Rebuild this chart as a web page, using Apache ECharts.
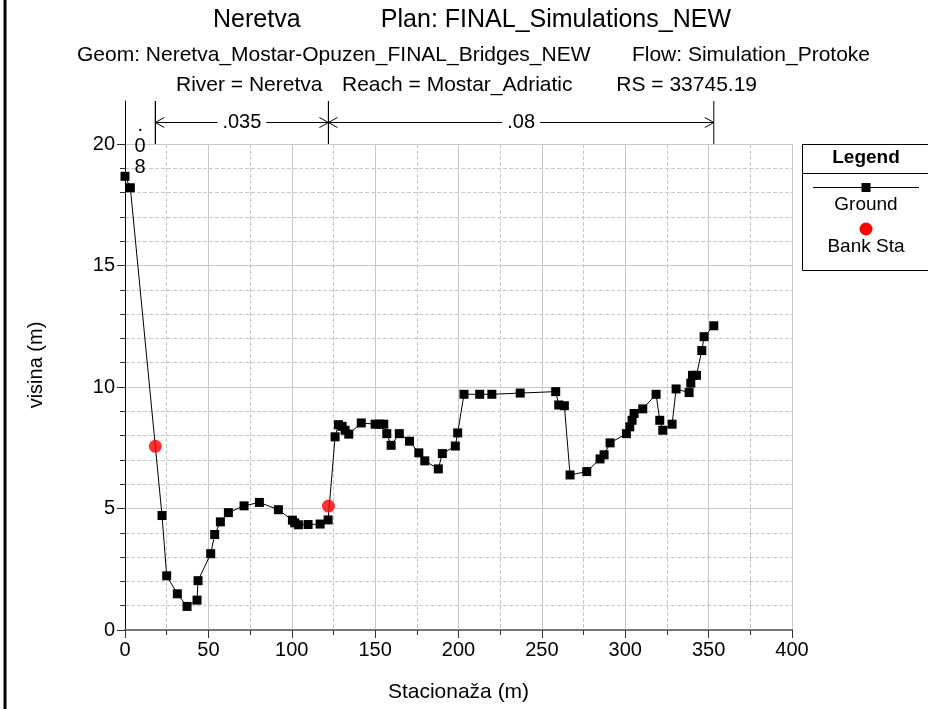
<!DOCTYPE html>
<html>
<head>
<meta charset="utf-8">
<script src="https://cdn.jsdelivr.net/npm/echarts@6/dist/echarts.min.js"></script>
<style>html,body{margin:0;padding:0;background:#fff;}#c{width:928px;height:709px;}</style>
</head>
<body>
<div id="c"></div>
<script>
// Ground profile (station m, elevation m)
const stations = [0,3.2,22.2,25.0,31.4,37.2,43.2,43.8,51.4,53.8,57.2,62.0,71.4,80.6,92.0,100.4,101.8,104.0,109.8,117.0,121.8,126.0,128.0,130.2,132.0,134.2,141.7,150.0,152.6,155.2,157.0,159.6,164.5,170.6,176.2,179.8,187.9,190.3,198.1,199.5,203.3,212.7,220.0,237.0,258.3,260.1,263.5,266.9,276.9,284.9,287.3,290.9,300.7,302.7,304.1,305.3,310.5,318.5,320.7,322.5,328.1,330.5,338.3,339.3,340.3,342.7,345.9,347.3,353.1];
const elevations = [18.67,18.20,4.71,2.23,1.49,0.97,1.23,2.03,3.14,3.93,4.45,4.83,5.11,5.25,4.95,4.52,4.41,4.33,4.34,4.36,4.53,7.95,8.45,8.38,8.22,8.06,8.52,8.47,8.47,8.47,8.08,7.60,8.08,7.77,7.29,6.96,6.63,7.26,7.57,8.11,9.70,9.70,9.70,9.75,9.81,9.26,9.23,6.38,6.52,7.04,7.21,7.70,8.08,8.36,8.63,8.91,9.10,9.70,8.63,8.22,8.47,9.92,9.77,10.16,10.48,10.48,11.50,12.07,12.52];
// Bank stations
const bankStations = [18.2, 122.0];
const bankElevations = [7.56, 5.10];
// Manning's n breaks and values
const nBreaks = [0, 18.2, 122.0, 353.1];
const nValues = ['.08', '.035', '.08'];
// Axis ticks
const xTicks = [0, 400, 50];
const yTicks = [0, 20, 5];

const FONT = 'Liberation Sans, Arial, sans-serif';
const groundData = stations.map((s, i) => [s, elevations[i]]);
const bankData = bankStations.map((s, i) => [s, bankElevations[i]]);
const nData = nValues.map((v, i) => [nBreaks[i], nBreaks[i + 1], 0]);

const chart = echarts.init(document.getElementById('c'), null, {renderer: 'canvas'});
function txt(x, y, s, size, align, bold) {
  return {type: 'text', x: x, y: y, style: {text: s, font: (bold ? 'bold ' : '') + size + 'px ' + FONT, fill: '#000', align: align, verticalAlign: 'middle'}};
}
const option = {
  animation: false,
  backgroundColor: '#fff',
  textStyle: {fontFamily: FONT},
  grid: [
    {left: 125, top: 144, width: 667, height: 486, show: false},
    {left: 125, top: 101, width: 667, height: 43, show: false}
  ],
  xAxis: [
    {
      gridIndex: 0, type: 'value', min: xTicks[0], max: xTicks[1], interval: xTicks[2], position: 'bottom',
      axisLine: {show: true, lineStyle: {color: '#333', width: 2}},
      axisTick: {show: true, length: 8, lineStyle: {color: '#333'}},
      minorTick: {show: true, splitNumber: 2, length: 5, lineStyle: {color: '#333'}},
      axisLabel: {fontSize: 20, color: '#000', margin: 10, fontFamily: FONT},
      splitLine: {show: true, lineStyle: {color: '#c8c8c8', width: 1}},
      minorSplitLine: {show: true, lineStyle: {color: '#c8c8c8', type: 'dashed', width: 1}},
      name: 'Stacionaža (m)', nameLocation: 'middle', nameGap: 52,
      nameTextStyle: {fontSize: 21, color: '#000', fontFamily: FONT}
    },
    {
      gridIndex: 0, type: 'value', min: xTicks[0], max: xTicks[1], position: 'top',
      axisLine: {show: true, lineStyle: {color: '#777', width: 2}},
      axisTick: {show: false}, axisLabel: {show: false}, splitLine: {show: false}
    },
    {gridIndex: 1, type: 'value', min: xTicks[0], max: xTicks[1], show: false}
  ],
  yAxis: [
    {
      gridIndex: 0, type: 'value', min: yTicks[0], max: yTicks[1], interval: yTicks[2],
      axisLine: {show: true, lineStyle: {color: '#000', width: 1}},
      axisTick: {show: true, length: 8, lineStyle: {color: '#333'}},
      minorTick: {show: true, splitNumber: 5, length: 5, lineStyle: {color: '#333'}},
      axisLabel: {fontSize: 20, color: '#000', margin: 10, fontFamily: FONT},
      splitLine: {show: true, lineStyle: {color: '#c8c8c8', width: 1}},
      minorSplitLine: {show: true, lineStyle: {color: '#c8c8c8', type: 'dashed', width: 1}},
      name: 'visina (m)', nameLocation: 'middle', nameGap: 79, nameRotate: 90,
      nameTextStyle: {fontSize: 20, color: '#000', fontFamily: FONT, padding: [0, 0, 0, 44]}
    },
    {
      gridIndex: 0, type: 'value', min: yTicks[0], max: yTicks[1], position: 'right',
      axisLine: {show: true, lineStyle: {color: '#000', width: 1}},
      axisTick: {show: false}, axisLabel: {show: false}, splitLine: {show: false}
    },
    {
      gridIndex: 1, type: 'value', min: 0, max: 1,
      axisLine: {show: true, lineStyle: {color: '#000', width: 1}},
      axisTick: {show: false}, axisLabel: {show: false}, splitLine: {show: false}
    }
  ],
  series: [
    {
      name: 'Ground', type: 'line', xAxisIndex: 0, yAxisIndex: 0, data: groundData,
      symbol: 'rect', symbolSize: 9, showSymbol: true,
      itemStyle: {color: '#000'}, lineStyle: {color: '#000', width: 1}, z: 3
    },
    {
      name: 'Bank Sta', type: 'scatter', xAxisIndex: 0, yAxisIndex: 0, data: bankData,
      symbol: 'circle', symbolSize: 13, itemStyle: {color: '#ff0000'}, z: 4
    },
    {
      name: 'Manning n', type: 'custom', xAxisIndex: 2, yAxisIndex: 2, data: nData,
      encode: {x: [0, 1], y: 2}, clip: false, silent: true,
      renderItem: function (params, api) {
        const s = api.value(0), e = api.value(1);
        const label = nValues[params.dataIndex];
        const p0 = api.coord([s, 0]), p1 = api.coord([e, 1]);
        const x0 = p0[0], x1 = p1[0], yb = p0[1], yt = p1[1];
        const ym = (yb + yt) / 2;
        const ls = {stroke: '#000', lineWidth: 1, fill: null};
        const children = [];
        children.push({type: 'line', shape: {x1: x1, y1: yt, x2: x1, y2: yb}, style: ls});
        if (s > 0) children.push({type: 'line', shape: {x1: x0, y1: yt, x2: x0, y2: yb}, style: ls});
        if (x1 - x0 > 60) {
          children.push({type: 'line', shape: {x1: x0, y1: ym, x2: x1, y2: ym}, style: ls});
          children.push({type: 'polyline', shape: {points: [[x0 + 9, ym - 5], [x0, ym], [x0 + 9, ym + 5]]}, style: ls});
          children.push({type: 'polyline', shape: {points: [[x1 - 9, ym - 5], [x1, ym], [x1 - 9, ym + 5]]}, style: ls});
          children.push({type: 'text', x: (x0 + x1) / 2, y: ym, style: {
            text: label, fill: '#000', font: '20px ' + FONT, align: 'center', verticalAlign: 'middle',
            backgroundColor: '#fff', padding: [0, 5]
          }});
        } else {
          children.push({type: 'text', x: (x0 + x1) / 2, y: yt + 14, style: {
            text: label.split('').join('\n'), fill: '#000', font: '20px ' + FONT, align: 'center',
            verticalAlign: 'top', lineHeight: 21
          }});
        }
        return {type: 'group', children: children};
      }
    }
  ],
  graphic: [
    {type: 'rect', shape: {x: 3.5, y: 0, width: 3, height: 709}, style: {fill: '#000'}},
    txt(213, 20, 'Neretva', 25, 'left'),
    txt(731, 20, 'Plan: FINAL_Simulations_NEW', 25, 'right'),
    txt(77, 55, 'Geom: Neretva_Mostar-Opuzen_FINAL_Bridges_NEW', 21, 'left'),
    txt(870, 55, 'Flow: Simulation_Protoke', 21, 'right'),
    txt(176, 85, 'River = Neretva', 21, 'left'),
    txt(342, 85, 'Reach = Mostar_Adriatic', 21, 'left'),
    txt(757, 85, 'RS = 33745.19', 21, 'right'),
    {type: 'rect', shape: {x: 802.5, y: 144.5, width: 140, height: 126}, style: {fill: '#fff', stroke: '#000', lineWidth: 1}},
    {type: 'line', shape: {x1: 802.5, y1: 173.5, x2: 940, y2: 173.5}, style: {stroke: '#000', lineWidth: 1}},
    txt(866, 158, 'Legend', 19, 'center', true),
    {type: 'line', shape: {x1: 813, y1: 187.5, x2: 919, y2: 187.5}, style: {stroke: '#000', lineWidth: 1}},
    {type: 'rect', shape: {x: 861.5, y: 183, width: 9, height: 9}, style: {fill: '#000'}},
    txt(866, 205, 'Ground', 19, 'center'),
    {type: 'circle', shape: {cx: 866, cy: 229, r: 6.5}, style: {fill: '#ff0000'}},
    txt(866, 247, 'Bank Sta', 19, 'center')
  ]
};
chart.setOption(option);
</script>
</body>
</html>
